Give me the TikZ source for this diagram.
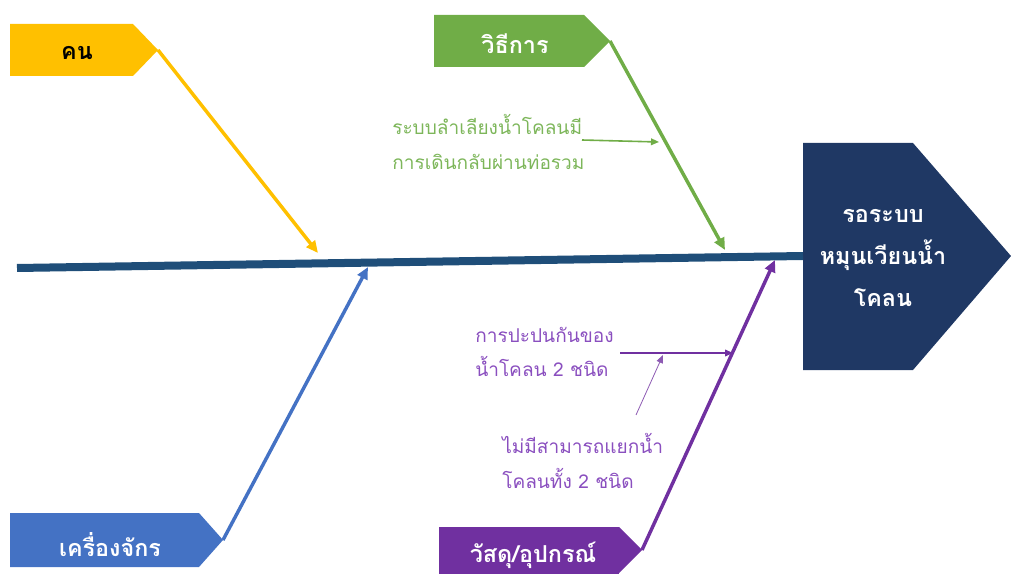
\documentclass[tikz,border=0pt]{standalone}
\usepackage{fontspec}
\setmainfont[Script=Thai]{Loma}
\usetikzlibrary{arrows.meta}
\definecolor{spine}{HTML}{1F4E79}
\definecolor{headc}{HTML}{1F3864}
\definecolor{cyel}{HTML}{FFC000}
\definecolor{cgrn}{HTML}{70AD47}
\definecolor{cblu}{HTML}{4472C4}
\definecolor{cpur}{HTML}{7030A0}
\definecolor{tpur}{HTML}{8A4FBF}
\definecolor{tgrn}{HTML}{7DB65A}
\tikzset{
  cattxt/.style={font=\fontsize{17.5}{21}\selectfont\bfseries, inner sep=0pt},
  bone/.style={line width=2.6pt, -{Triangle[length=9pt,width=8pt]}},
  sub/.style={line width=1.2pt, -{Triangle[length=6pt,width=5pt]}},
  thinarr/.style={line width=0.6pt, -{Triangle[length=6pt,width=5pt]}},
  note/.style={align=left, anchor=west, font=\fontsize{14.3}{26}\selectfont, inner sep=0pt},
}
% #1 left x, #2 top y, #3 corner x, #4 tip x, #5 bottom y, #6 colour, #7 tip coordinate name
\newcommand{\catshape}[7]{%
  \fill[#6] (#1,#2) -- (#3,#2) -- (#4,{(#2+#5)/2}) -- (#3,#5) -- (#1,#5) -- cycle;
  \coordinate (#7) at (#4,{(#2+#5)/2});}
\begin{document}
\begin{tikzpicture}[x=0.75pt,y=-0.75pt]
\useasboundingbox (0,0) rectangle (1011,574);
% head
\fill[headc] (803,143) -- (913,143) -- (1011,256) -- (913,370) -- (803,370) -- cycle;
\coordinate (headw) at (803,256);
\node[text=white, align=center, font=\fontsize{17.5}{31.5}\selectfont\bfseries] (headtxt) at (883,258) {รอระบบ\\หมุนเวียนน้ำ\\โคลน};
\coordinate (tail) at (17,268);
\draw[spine, line width=6pt] (tail) -- (headw);
% category boxes
\catshape{10}{24}{133}{158}{76}{cyel}{mantip}
\node[cattxt, text=black] (mantxt) at (77,53) {คน};
\catshape{434}{15}{584}{610}{67}{cgrn}{methtip}
\node[cattxt, text=white] (methtxt) at (515,44) {วิธีการ};
\catshape{10}{513}{199}{223}{567}{cblu}{machtip}
\node[cattxt, text=white] (machtxt) at (110,545) {เครื่องจักร};
\begin{scope}
\clip (0,0) rectangle (1011,574);
\catshape{439}{527}{619}{642}{573}{cpur}{mattip}
\fill[cpur] (439,570) rectangle (619,580);
\end{scope}
\node[cattxt, text=white] (mattxt) at (533,555) {วัสดุ/อุปกรณ์};
% bone end points on spine
\coordinate (e1) at (318,253);
\coordinate (e2) at (725,250);
\coordinate (e3) at (368,267);
\coordinate (e4) at (775,260);
\draw[bone, cyel] (mantip) -- (e1);
\draw[bone, cgrn] (methtip) -- (e2);
\draw[bone, cblu] (machtip) -- (e3);
\draw[bone, cpur] (mattip) -- (e4);
% notes
\node[note, text=tgrn] (n1) at (392,142) {ระบบลำเลียงน้ำโคลนมี\\การเดินกลับผ่านท่อรวม};
\coordinate (n1s) at (582,140);
\coordinate (n1e) at (659,142);
\draw[sub, cgrn] (n1s) -- (n1e);
\node[note, text=tpur] (n2) at (475,352) {การปะปนกันของ\\น้ำโคลน 2 ชนิด};
\coordinate (n2s) at (620,353);
\coordinate (n2e) at (733,353);
\draw[sub, cpur] (n2s) -- (n2e);
\node[note, text=tpur] (n3) at (502,461) {ไม่มีสามารถแยกน้ำ\\โคลนทั้ง 2 ชนิด};
\coordinate (n3s) at (636,415);
\coordinate (n3e) at (663,355);
\draw[thinarr, cpur!80] (n3s) -- (n3e);
\end{tikzpicture}
\end{document}
